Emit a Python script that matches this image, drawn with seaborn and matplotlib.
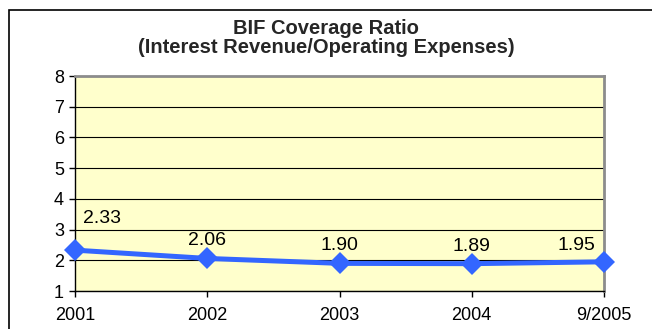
import matplotlib
matplotlib.use("Agg")
import matplotlib.pyplot as plt
import seaborn as sns
import pandas as pd
from matplotlib.patches import Rectangle

# ---- data ----
periods = ["2001", "2002", "2003", "2004", "9/2005"]
ratios = [2.33, 2.06, 1.90, 1.89, 1.95]
value_labels = ["2.33", "2.06", "1.90", "1.89", "1.95"]
y_ticks = [1, 2, 3, 4, 5, 6, 7, 8]
title_lines = ["BIF Coverage Ratio", "(Interest Revenue/Operating Expenses)"]

sns.set_style("white")
plt.rcParams['font.family'] = ['Liberation Sans', 'DejaVu Sans']

W, H = 652, 329
fig = plt.figure(figsize=(W / 100, H / 100), dpi=100)
fig.patch.set_facecolor("white")

# outer chart frame (left & top visible)
fig.add_artist(Rectangle((8.5 / W, -0.2), 2.0, 1 - 9.5 / H + 0.2,
                         transform=fig.transFigure, fill=False,
                         ec="black", lw=1.2))

ax = fig.add_axes([75 / W, 1 - 291 / H, (604 - 75) / W, (291 - 76) / H])
ax.set_facecolor("#FFFFCC")

df = pd.DataFrame({"pos": list(range(len(periods))), "ratio": ratios})
sns.lineplot(data=df, x="pos", y="ratio", ax=ax, color="#3366FF",
             linewidth=3.6, marker="D", markersize=11, markeredgewidth=0,
             clip_on=False, zorder=5)

ax.set_xlim(0, len(periods) - 1)
ax.set_ylim(y_ticks[0], y_ticks[-1])
ax.set_xticks(range(len(periods)))
ax.set_xticklabels(periods)
ax.set_yticks(y_ticks)
ax.set_yticklabels([str(t) for t in y_ticks])
ax.set_xlabel("")
ax.set_ylabel("")

ax.grid(axis="y", color="black", linewidth=0.8)
ax.grid(axis="x", visible=False)
ax.set_axisbelow(True)

for side in ["left", "bottom"]:
    ax.spines[side].set_color("black")
    ax.spines[side].set_linewidth(1.0)
for side in ["top", "right"]:
    ax.spines[side].set_color("#8c8c8c")
    ax.spines[side].set_linewidth(2.0)

ax.tick_params(axis="both", direction="out", length=4, width=1, color="black",
               labelsize=13, labelcolor="black")
ax.tick_params(axis="x", pad=7.5, bottom=True)
ax.tick_params(axis="y", pad=4, left=True)

# value labels (offsets in points)
offsets = [(19.5, 23), (0, 13), (0, 12.5), (0, 12.5), (-20, 12)]
for i, (v, lab) in enumerate(zip(ratios, value_labels)):
    ax.annotate(lab, (i, v), xytext=offsets[i], textcoords="offset points",
                ha="center", va="center", fontsize=14, color="black",
                zorder=6, annotation_clip=False)

# title
fig.text(0.5, 1 - 34 / H, title_lines[0], ha="center", va="baseline",
         fontsize=14.5, fontweight="bold")
fig.text(0.5, 1 - 53 / H, title_lines[1], ha="center", va="baseline",
         fontsize=14.5, fontweight="bold")

fig.savefig("out.png", dpi=100)
